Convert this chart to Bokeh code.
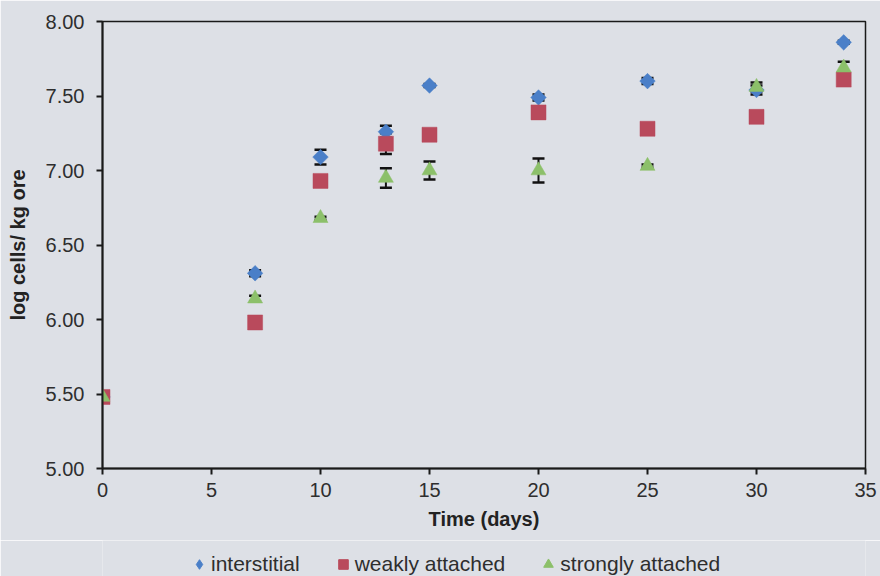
import numpy as np
from bokeh.plotting import figure
from bokeh.layouts import column
from bokeh.models import ColumnDataSource, Whisker, Legend, LegendItem, FixedTicker, TeeHead
from bokeh.embed import file_html
from bokeh.resources import INLINE

days = [0, 7, 10, 13, 15, 20, 25, 30, 34]
interstitial = [5.48, 6.31, 7.09, 7.26, 7.57, 7.49, 7.60, 7.54, 7.86]
interstitial_err = [0.01, 0.02, 0.05, 0.04, 0.01, 0.02, 0.02, 0.03, 0.01]
weakly = [5.48, 5.98, 6.93, 7.18, 7.24, 7.39, 7.28, 7.36, 7.61]
weakly_err = [0.01, 0.01, 0.01, 0.07, 0.01, 0.01, 0.01, 0.01, 0.01]
strongly = [5.48, 6.14, 6.68, 6.95, 7.00, 7.00, 7.03, 7.56, 7.69]
strongly_err = [0.01, 0.02, 0.01, 0.065, 0.06, 0.08, 0.01, 0.03, 0.04]
x_ticks = [0, 5, 10, 15, 20, 25, 30, 35]
y_ticks = [5.0, 5.5, 6.0, 6.5, 7.0, 7.5, 8.0]

BG = "#dde0e6"
FONT = "Liberation Sans"

p = figure(width=880, height=540, output_backend="svg", toolbar_location=None,
           x_range=(0, 35), y_range=(5.0, 8.0),
           min_border_left=102, min_border_right=15, min_border_top=21,
           min_border_bottom=72)
p.background_fill_color = BG
p.border_fill_color = BG
p.outline_line_color = "#1a1a1a"
p.outline_line_width = 1.5
p.grid.visible = False

p.xaxis.ticker = FixedTicker(ticks=x_ticks)
p.yaxis.ticker = FixedTicker(ticks=y_ticks)
p.yaxis.major_label_overrides = {t: f"{t:.2f}" for t in y_ticks}
p.xaxis.major_label_overrides = {t: str(t) for t in x_ticks}
for ax in (p.xaxis, p.yaxis):
    ax.axis_line_color = "#1a1a1a"
    ax.axis_line_width = 2
    ax.major_tick_line_color = "#1a1a1a"
    ax.major_tick_line_width = 2
    ax.major_tick_out = 6
    ax.major_tick_in = 0
    ax.minor_tick_line_color = None
    ax.major_label_text_font = FONT
    ax.major_label_text_font_size = "20px"
    ax.major_label_text_color = "#2e2e2e"
    ax.axis_label_text_font = FONT
    ax.axis_label_text_font_size = "20px"
    ax.axis_label_text_font_style = "bold"
    ax.axis_label_text_color = "#222222"
p.xaxis.axis_label = "Time (days)"
p.yaxis.axis_label = "log cells/ kg ore"
p.xaxis.major_label_standoff = 8
p.xaxis.axis_label_standoff = 8
p.yaxis.major_label_standoff = 12
p.yaxis.axis_label_standoff = 14

series = [
    ("interstitial", interstitial, interstitial_err, "#4a7fc8", "square", np.pi / 4, 11, "diamond"),
    ("weakly attached", weakly, weakly_err, "#b94a5c", "square", 0, 15, "square"),
    ("strongly attached", strongly, strongly_err, "#8cc06a", "triangle", 0, 15, "triangle"),
]

# legend strip below the chart (its frame is aligned with the chart's frame)
leg = figure(width=880, height=36, output_backend="svg", toolbar_location=None,
             x_range=(0, 1), y_range=(0, 1), x_axis_type=None, y_axis_type=None,
             min_border_left=102, min_border_right=15, min_border_top=0,
             min_border_bottom=0)
leg.background_fill_color = BG
leg.border_fill_color = BG
leg.outline_line_color = None
leg.grid.visible = False

items = []
for name, vals, errs, color, marker, ang, size, leg_marker in series:
    src = ColumnDataSource(dict(
        x=days, y=vals,
        lo=[v - e for v, e in zip(vals, errs)],
        hi=[v + e for v, e in zip(vals, errs)],
    ))
    w = Whisker(source=src, base="x", upper="hi", lower="lo",
                line_color="#111111", line_width=2,
                upper_head=TeeHead(size=12, line_color="#111111", line_width=2.5),
                lower_head=TeeHead(size=12, line_color="#111111", line_width=2.5))
    p.add_layout(w)
    p.scatter("x", "y", source=src, marker=marker, angle=ang, size=size,
              fill_color=color, line_color=color, line_alpha=0.5)
    # off-screen sample point of the series, used only to draw its legend glyph
    dummy = leg.scatter(x=days[:1], y=vals[:1], marker=leg_marker, size=size,
                        fill_color=color, line_color=color)
    items.append(LegendItem(label=name, renderers=[dummy]))

legend = Legend(items=items, orientation="horizontal", location=(85, 0),
                background_fill_alpha=0, border_line_color=None,
                label_text_font=FONT, label_text_font_size="21px",
                label_text_color="#2e2e2e",
                glyph_width=24, glyph_height=24, spacing=31,
                label_standoff=-4, padding=0, margin=0)
leg.add_layout(legend)

layout = column(p, leg, spacing=0)
open("out.html", "w").write(file_html(layout, INLINE))
